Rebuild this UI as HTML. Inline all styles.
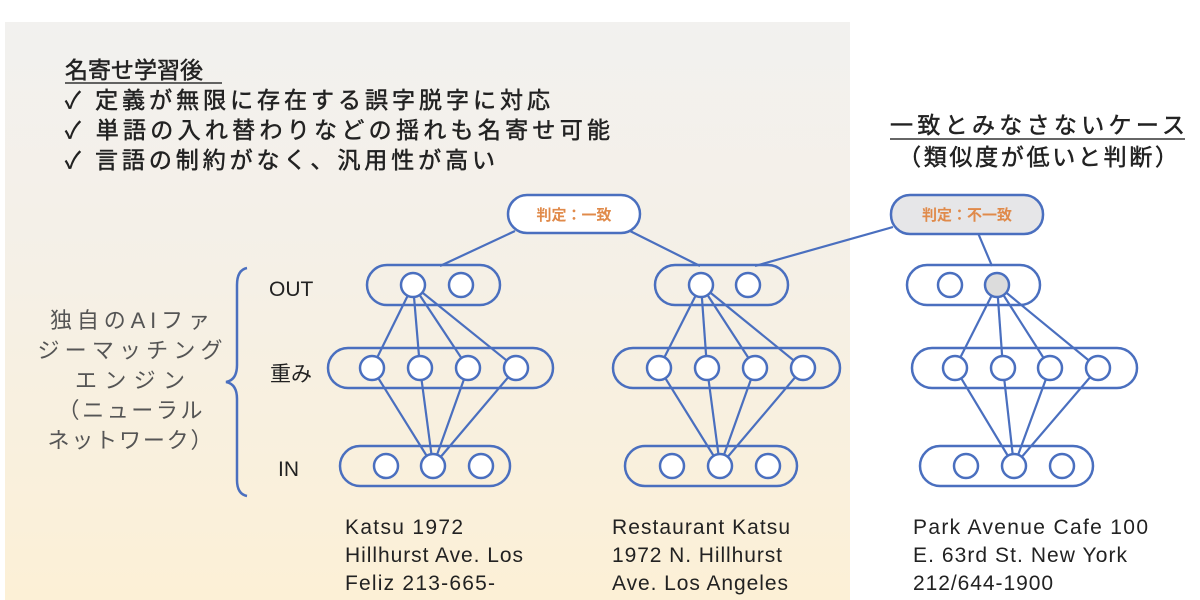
<!DOCTYPE html>
<html><head><meta charset="utf-8"><style>
html,body{margin:0;padding:0;background:#fff}
svg{display:block}
text{font-family:"Liberation Sans","Noto Sans CJK JP",sans-serif}
</style></head><body>
<svg width="1200" height="600" viewBox="0 0 1200 600" xmlns="http://www.w3.org/2000/svg">
<defs>
<linearGradient id="bg" x1="0" y1="0" x2="0" y2="1">
<stop offset="0" stop-color="#f2f1ef"/>
<stop offset="0.45" stop-color="#f5f0e6"/>
<stop offset="1" stop-color="#fcf0d6"/>
</linearGradient>
</defs>
<rect x="0" y="0" width="1200" height="600" fill="#fff"/>
<rect x="5" y="22" width="845" height="578" fill="url(#bg)"/>

<g fill="#222" font-size="23" stroke="#222" stroke-width="0.5">
<text x="65" y="78">名寄せ学習後</text>
<line x1="65" y1="83" x2="222" y2="83" stroke="#333" stroke-width="1.5"/>
<text x="65" y="108" textLength="485">✓ 定義が無限に存在する誤字脱字に対応</text>
<text x="65" y="138" textLength="545">✓ 単語の入れ替わりなどの揺れも名寄せ可能</text>
<text x="65" y="168" textLength="430">✓ 言語の制約がなく、汎用性が高い</text>
<text x="890" y="133" textLength="295">一致とみなさないケース</text>
<line x1="890" y1="139" x2="1185" y2="139" stroke="#333" stroke-width="1.5"/>
<text x="898" y="165" textLength="280">（類似度が低いと判断）</text>
</g>

<g fill="#555" font-size="22" text-anchor="middle">
<text x="130" y="328" textLength="160">独自のAIファ</text>
<text x="130" y="358" textLength="185">ジーマッチング</text>
<text x="130" y="388" textLength="110">エンジン</text>
<text x="130" y="418" textLength="145">（ニューラル</text>
<text x="130" y="448" textLength="165">ネットワーク）</text>
</g>
<path d="M247 268 Q237 270 237 285 L237 365 Q237 380 226 382 Q237 384 237 399 L237 480 Q237 494 247 496" fill="none" stroke="#4a6fbf" stroke-width="2.5"/>
<g fill="#222" font-size="21">
<text x="269" y="296">OUT</text>
<text x="270" y="381">重み</text>
<text x="278" y="476">IN</text>
</g>

<g stroke="#4a6fbf" stroke-width="2.2" fill="none">
<line x1="515" y1="231" x2="440" y2="266"/>
<line x1="630" y1="231" x2="700" y2="266"/>
<line x1="893" y1="227" x2="755" y2="266"/>
<line x1="978" y1="233" x2="992" y2="266"/>
<g>
<line x1="413" y1="285" x2="372" y2="368"/><line x1="413" y1="285" x2="420" y2="368"/><line x1="413" y1="285" x2="468" y2="368"/><line x1="413" y1="285" x2="516" y2="368"/>
<line x1="372" y1="368" x2="433" y2="466"/><line x1="420" y1="368" x2="433" y2="466"/><line x1="468" y1="368" x2="433" y2="466"/><line x1="516" y1="368" x2="433" y2="466"/>
</g>
<g>
<line x1="701" y1="285" x2="659" y2="368"/><line x1="701" y1="285" x2="707" y2="368"/><line x1="701" y1="285" x2="755" y2="368"/><line x1="701" y1="285" x2="803" y2="368"/>
<line x1="659" y1="368" x2="720" y2="466"/><line x1="707" y1="368" x2="720" y2="466"/><line x1="755" y1="368" x2="720" y2="466"/><line x1="803" y1="368" x2="720" y2="466"/>
</g>
<g>
<line x1="997" y1="285" x2="955" y2="368"/><line x1="997" y1="285" x2="1003" y2="368"/><line x1="997" y1="285" x2="1050" y2="368"/><line x1="997" y1="285" x2="1098" y2="368"/>
<line x1="955" y1="368" x2="1014" y2="466"/><line x1="1003" y1="368" x2="1014" y2="466"/><line x1="1050" y1="368" x2="1014" y2="466"/><line x1="1098" y1="368" x2="1014" y2="466"/>
</g>
</g>

<g stroke="#4a6fbf" stroke-width="2.5">
<rect x="367" y="265" width="133" height="40" rx="20" fill="none"/>
<rect x="328" y="348" width="225" height="40" rx="20" fill="none"/>
<rect x="340" y="446" width="170" height="40" rx="20" fill="none"/>
<rect x="655" y="265" width="133" height="40" rx="20" fill="none"/>
<rect x="613" y="348" width="227" height="40" rx="20" fill="none"/>
<rect x="625" y="446" width="172" height="40" rx="20" fill="none"/>
<rect x="907" y="265" width="133" height="40" rx="20" fill="none"/>
<rect x="912" y="348" width="225" height="40" rx="20" fill="none"/>
<rect x="920" y="446" width="173" height="40" rx="20" fill="none"/>
<rect x="508" y="195" width="132" height="38" rx="19" fill="#fff"/>
<rect x="891" y="195" width="152" height="39" rx="19" fill="#e6e6e8"/>
</g>
<g stroke="#4a6fbf" stroke-width="2.5" fill="#fff">
<circle cx="413" cy="285" r="12"/><circle cx="461" cy="285" r="12"/>
<circle cx="372" cy="368" r="12"/><circle cx="420" cy="368" r="12"/><circle cx="468" cy="368" r="12"/><circle cx="516" cy="368" r="12"/>
<circle cx="386" cy="466" r="12"/><circle cx="433" cy="466" r="12"/><circle cx="481" cy="466" r="12"/>
<circle cx="701" cy="285" r="12"/><circle cx="748" cy="285" r="12"/>
<circle cx="659" cy="368" r="12"/><circle cx="707" cy="368" r="12"/><circle cx="755" cy="368" r="12"/><circle cx="803" cy="368" r="12"/>
<circle cx="672" cy="466" r="12"/><circle cx="720" cy="466" r="12"/><circle cx="768" cy="466" r="12"/>
<circle cx="950" cy="285" r="12"/><circle cx="997" cy="285" r="12" fill="#dcdcdc"/>
<circle cx="955" cy="368" r="12"/><circle cx="1003" cy="368" r="12"/><circle cx="1050" cy="368" r="12"/><circle cx="1098" cy="368" r="12"/>
<circle cx="966" cy="466" r="12"/><circle cx="1014" cy="466" r="12"/><circle cx="1062" cy="466" r="12"/>
</g>
<g fill="#e08a4a" font-size="15" font-weight="bold" text-anchor="middle">
<text x="574" y="220">判定：一致</text>
<text x="967" y="220">判定：不一致</text>
</g>

<g fill="#222" font-size="21">
<text x="345" y="534" textLength="118">Katsu 1972</text>
<text x="345" y="562" textLength="178">Hillhurst Ave. Los</text>
<text x="345" y="590" textLength="150">Feliz 213-665-</text>
<text x="612" y="534" textLength="178">Restaurant Katsu</text>
<text x="612" y="562" textLength="170">1972 N. Hillhurst</text>
<text x="612" y="590" textLength="176">Ave. Los Angeles</text>
<text x="913" y="534" textLength="235">Park Avenue Cafe 100</text>
<text x="913" y="562" textLength="214">E. 63rd St. New York</text>
<text x="913" y="590" textLength="140">212/644-1900</text>
</g>
</svg>
</body></html>
